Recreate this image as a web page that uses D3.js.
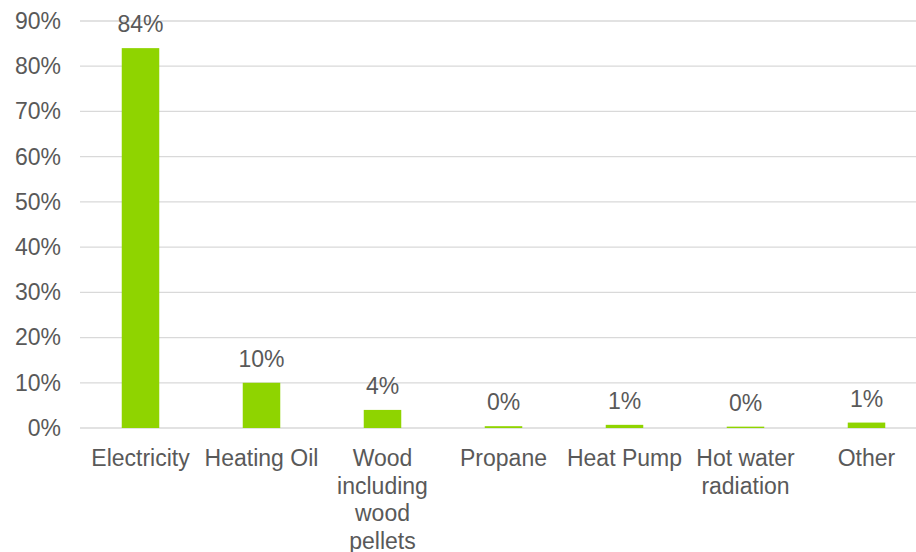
<!DOCTYPE html>
<html>
<head>
<meta charset="utf-8">
<script src="https://cdn.jsdelivr.net/npm/d3@7"></script>
<style>
  html, body { margin: 0; padding: 0; background: #fff; }
  svg { display: block; font-family: "Liberation Sans", Arial, sans-serif; }
</style>
</head>
<body>
<svg id="chart" width="916" height="552"></svg>
<script>
// Primary heating source shares
const categories = ["Electricity", "Heating Oil", "Wood including wood pellets", "Propane", "Heat Pump", "Hot water radiation", "Other"];
const shares = [0.84, 0.10, 0.04, 0.004, 0.007, 0.003, 0.012];
const yTicks = [0, 0.1, 0.2, 0.3, 0.4, 0.5, 0.6, 0.7, 0.8, 0.9];

const svg = d3.select("#chart");
const textColor = "#595959";
const fontSize = 23;

const x = d3.scaleBand()
  .domain(categories)
  .range([80, 927])
  .paddingInner(0.69)
  .paddingOuter(0.345);

const y = d3.scaleLinear()
  .domain([0, 0.9])
  .range([428, 21]);

const pct = d3.format(".0%");

// Gridlines
svg.append("g")
  .selectAll("line")
  .data(yTicks)
  .join("line")
  .attr("x1", 80)
  .attr("x2", 916)
  .attr("y1", d => y(d))
  .attr("y2", d => y(d))
  .attr("stroke", "#d9d9d9")
  .attr("stroke-width", 1.3);

// Y axis labels
const yAxis = d3.axisLeft(y).tickValues(yTicks).tickFormat(pct).tickSize(0).tickPadding(0);
const yg = svg.append("g").attr("transform", "translate(61,0)").call(yAxis);
yg.select(".domain").remove();
yg.selectAll("text")
  .attr("font-size", fontSize)
  .attr("font-family", "Liberation Sans, Arial, sans-serif")
  .attr("fill", textColor);

// Bars
svg.append("g")
  .selectAll("rect")
  .data(categories)
  .join("rect")
  .attr("x", d => x(d))
  .attr("width", x.bandwidth())
  .attr("y", (d, i) => y(shares[i]))
  .attr("height", (d, i) => y(0) - y(shares[i]))
  .attr("fill", "#8fd400");

// Value labels
svg.append("g")
  .selectAll("text")
  .data(categories)
  .join("text")
  .attr("x", d => x(d) + x.bandwidth() / 2)
  .attr("y", (d, i) => y(shares[i]) - 16)
  .attr("text-anchor", "middle")
  .attr("font-size", fontSize)
  .attr("fill", textColor)
  .text((d, i) => pct(shares[i]));

// Category labels, wrapped to the band step
const xg = svg.append("g").attr("transform", "translate(0," + y(0) + ")");
const maxWidth = x.step() - 3;
const lineHeight = 27.5;
categories.forEach(cat => {
  const t = xg.append("text")
    .attr("x", x(cat) + x.bandwidth() / 2)
    .attr("y", 38)
    .attr("text-anchor", "middle")
    .attr("font-size", fontSize)
    .attr("fill", textColor);
  const words = cat.split(" ");
  let line = [];
  let lineNo = 0;
  let tspan = t.append("tspan").attr("x", x(cat) + x.bandwidth() / 2).attr("dy", 0);
  words.forEach(w => {
    line.push(w);
    tspan.text(line.join(" "));
    if (tspan.node().getComputedTextLength() > maxWidth && line.length > 1) {
      line.pop();
      tspan.text(line.join(" "));
      line = [w];
      lineNo++;
      tspan = t.append("tspan")
        .attr("x", x(cat) + x.bandwidth() / 2)
        .attr("dy", lineHeight)
        .text(w);
    }
  });
});
</script>
</body>
</html>
